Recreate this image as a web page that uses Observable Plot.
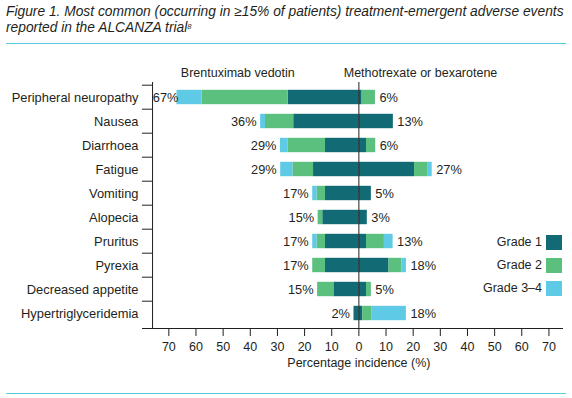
<!DOCTYPE html>
<html><head><meta charset="utf-8">
<script src="https://cdn.jsdelivr.net/npm/d3@7"></script>
<script src="https://cdn.jsdelivr.net/npm/@observablehq/plot@0.6"></script>
<style>
body{margin:0;background:#fff;font-family:"Liberation Sans",Arial,sans-serif;color:#231f20}
#fig{position:relative;width:572px;height:398px;overflow:hidden;background:#fff}
#title{position:absolute;left:6px;top:4px;font-style:italic;font-size:14px;line-height:15.5px;white-space:nowrap}
#title sup{font-size:0.55em;vertical-align:0.45em;line-height:0}
.hr{position:absolute;left:6px;width:560px;height:1px;background:#5cc8e0}
#chart{position:absolute;left:0;top:45px}
.lg{position:absolute;height:15px;font-size:12.5px}
.lg span.t{position:absolute;right:30px;top:0;line-height:15px;white-space:nowrap}
.lg span.s{position:absolute;right:10px;top:0;width:15.7px;height:15px}
</style></head>
<body>
<div id="fig">
  <div id="title"><span id="t1">Figure 1. Most common (occurring in ≥15% of patients) treatment-emergent adverse events</span><br>reported in the ALCANZA trial<sup>8</sup></div>
  <div class="hr" style="top:43px"></div>
  <div id="chart"></div>
  <div id="legend"></div>
  <div class="hr" style="top:393px"></div>
</div>
<script>
const categories = ["Peripheral neuropathy","Nausea","Diarrhoea","Fatigue","Vomiting","Alopecia","Pruritus","Pyrexia","Decreased appetite","Hypertriglyceridemia"];
const grades = ["Grade 1","Grade 2","Grade 3–4"];
const gradeColors = ["#126b74","#5bbf7e","#5ecae6"];
const groups = ["Brentuximab vedotin","Methotrexate or bexarotene"];

// Brentuximab vedotin (drawn to the left)
const bvGrade1  = [26.0, 24.0, 12.3, 16.7, 12.3, 13.3, 12.3, 12.3, 9.2, 1.8];
const bvGrade2  = [31.7, 10.4, 13.7,  7.6,  3.1,  1.7,  3.1,  4.7, 6.0, 0];
const bvGrade34 = [ 9.3,  1.8,  2.9,  4.5,  1.6,  0,    1.6,  0,   0,   0];
const bvTotals  = [67, 36, 29, 29, 17, 15, 17, 17, 15, 2];

// Methotrexate or bexarotene (drawn to the right)
const mbGrade1  = [1.2, 12.7, 2.8, 20.5, 4.6, 3.1, 2.8, 11.1, 2.8, 1.4];
const mbGrade2  = [4.9,  0,   3.4,  4.8, 0,   0,   6.6,  4.7, 1.8, 3.3];
const mbGrade34 = [0,    0,   0,    1.7, 0,   0,   3.2,  1.7, 0,  12.8];
const mbTotals  = [6, 13, 6, 27, 5, 3, 13, 18, 5, 18];

const xTicks = d3.range(-70, 71, 10);

// fit the title's first line to the rule width
(function fitTitle() {
  const t = document.getElementById("title"), s = document.getElementById("t1");
  const w = s.getBoundingClientRect().width;
  if (w > 0) t.style.fontSize = Math.min(15, 14 * 558 / w) + "px";
})();

const rows = [];
categories.forEach((c, i) => {
  [bvGrade1, bvGrade2, bvGrade34].forEach((arr, g) => rows.push({category: c, group: groups[0], grade: grades[g], value: -arr[i]}));
  [mbGrade1, mbGrade2, mbGrade34].forEach((arr, g) => rows.push({category: c, group: groups[1], grade: grades[g], value: arr[i]}));
});
const leftLabels = categories.map((c, i) => ({category: c, x: -Math.min(bvGrade1[i] + bvGrade2[i] + bvGrade34[i], 65), text: bvTotals[i] + "%"}));
const rightLabels = categories.map((c, i) => ({category: c, x: mbGrade1[i] + mbGrade2[i] + mbGrade34[i], text: mbTotals[i] + "%"}));

const ink = "#231f20";
const fs = 12.5;
const chart = Plot.plot({
  width: 572, height: 353,
  marginLeft: 142, marginRight: 10, marginTop: 37, marginBottom: 70,
  style: {fontFamily: '"Liberation Sans", Arial, sans-serif', fontSize: fs + "px", color: ink, background: "transparent"},
  x: {domain: [-79.7, 75], axis: null},
  y: {domain: categories, padding: 0, axis: null},
  color: {domain: grades, range: gradeColors},
  marks: [
    Plot.barX(rows, Plot.stackX({y: "category", x: "value", fill: "grade", insetTop: 4.8, insetBottom: 4.8})),
    Plot.ruleX([0], {stroke: ink}),
    Plot.ruleX([-76], {stroke: ink}),
    Plot.frame({anchor: "bottom", stroke: ink}),
    Plot.ruleY(categories, {y: d => d, x1: -79.7, x2: -76, dy: -12.3, stroke: ink}),
    Plot.axisY({tickSize: 0, tickPadding: 4, fontSize: 12.9, label: null}),
    Plot.axisX({ticks: xTicks, tickFormat: d => Math.abs(d), tickSize: 8, tickPadding: 6, fontSize: fs, label: null, stroke: ink}),
    Plot.text(leftLabels, {y: "category", x: "x", text: "text", textAnchor: "end", dx: -4, fontSize: 12.8, fill: ink}),
    Plot.text(rightLabels, {y: "category", x: "x", text: "text", textAnchor: "start", dx: 4, fontSize: 12.8, fill: ink}),
    Plot.text(groups, {x: [-44.6, 22.7], text: d => d, frameAnchor: "top", lineAnchor: "bottom", dy: -6, fontSize: fs, fill: ink}),
    Plot.text(["Percentage incidence (%)"], {x: () => 0, text: d => d, frameAnchor: "bottom", lineAnchor: "middle", dy: 34.4, fontSize: fs, fill: ink})
  ]
});
document.getElementById("chart").appendChild(chart);

const legend = document.getElementById("legend");
const legendTops = [235, 257.7, 281];
grades.forEach((g, i) => {
  const row = document.createElement("div");
  row.className = "lg";
  row.style.left = "0px"; row.style.width = "572px"; row.style.top = legendTops[i] + "px";
  row.innerHTML = `<span class="t">${g}</span><span class="s" style="background:${gradeColors[i]}"></span>`;
  legend.appendChild(row);
});
</script>
</body></html>
